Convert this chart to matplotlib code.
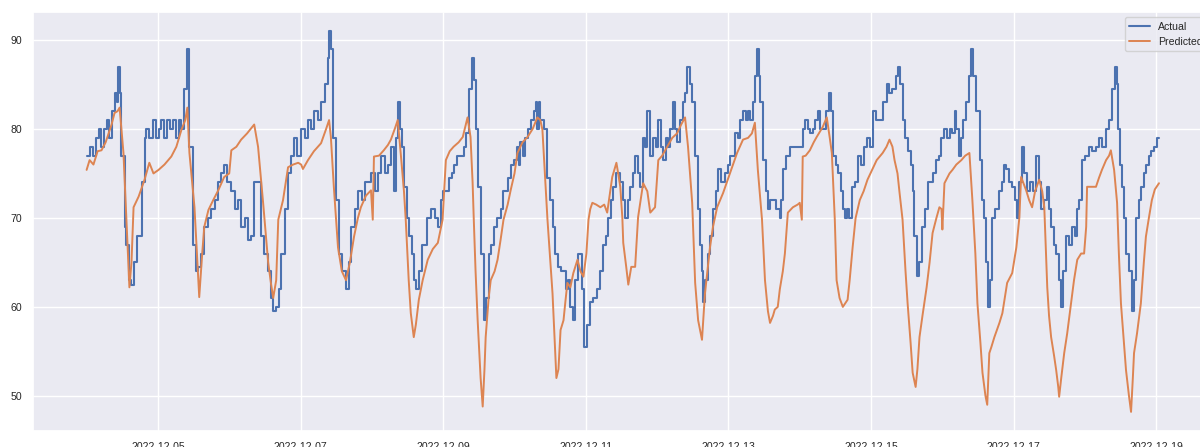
import pandas as pd
import matplotlib.pyplot as plt
import matplotlib.dates as mdates
import seaborn as sns

start = pd.Timestamp('2022-12-04 00:00')

# hours since start / value
actual_hours = [
    0.0, 1.0, 2.0, 3.0, 4.0, 5.0, 6.0, 7.0, 7.7, 8.4, 9.4, 10.1, 10.7, 11.4, 11.7, 12.8, 13.4, 14.4, 15.1, 16.1,
    16.8, 18.5, 19.5, 20.1, 21.1, 22.2, 23.2, 24.2, 25.2, 26.2, 27.2, 28.2, 29.2, 30.2, 31.2, 31.9, 32.9, 33.9,
    34.6, 35.9, 36.9, 37.6, 38.6, 39.6, 41.0, 42.0, 43.3, 44.3, 45.3, 46.3, 47.3, 48.7, 50.0, 51.0, 52.0, 53.4,
    54.4, 55.4, 56.4, 57.7, 58.7, 59.8, 61.1, 62.1, 62.8, 63.8, 64.8, 65.5, 66.8, 67.8, 68.8, 69.8, 70.8, 72.2,
    73.5, 74.5, 75.5, 76.5, 77.9, 78.9, 80.2, 81.2, 81.6, 82.2, 82.9, 83.9, 84.9, 85.9, 87.3, 88.3, 89.0, 90.3,
    91.3, 92.7, 93.7, 94.7, 95.7, 97.0, 98.0, 99.0, 100.4, 101.4, 102.4, 103.4, 104.1, 104.7, 105.4, 106.1, 106.8,
    107.8, 108.4, 109.4, 110.1, 110.8, 111.8, 112.8, 113.5, 114.5, 115.8, 117.2, 118.2, 119.2, 119.8, 120.9,
    121.9, 122.9, 123.5, 124.5, 125.9, 126.9, 127.6, 128.6, 129.6, 130.3, 130.9, 131.6, 132.6, 133.6, 134.3,
    135.3, 136.0, 137.0, 138.0, 139.3, 140.3, 141.7, 142.7, 143.7, 144.7, 145.4, 146.0, 147.0, 147.7, 148.4,
    149.4, 150.4, 151.1, 151.7, 152.1, 152.7, 153.8, 155.1, 155.8, 156.8, 157.8, 158.5, 159.5, 160.5, 161.5,
    162.1, 162.8, 163.8, 164.5, 165.5, 166.2, 166.8, 167.5, 168.5, 169.5, 170.5, 171.9, 172.9, 173.9, 174.9,
    175.6, 176.6, 177.2, 178.3, 179.6, 180.6, 181.3, 182.3, 183.0, 184.0, 184.6, 185.6, 186.3, 187.3, 188.0,
    188.7, 189.7, 190.7, 191.7, 192.4, 193.4, 194.0, 195.0, 195.7, 196.4, 197.4, 198.1, 198.7, 199.7, 200.7,
    201.4, 202.1, 203.1, 203.8, 204.8, 205.8, 206.5, 207.1, 207.5, 208.1, 209.1, 209.8, 210.8, 211.8, 212.5,
    213.5, 214.8, 215.9, 216.5, 217.5, 218.2, 219.2, 219.9, 220.9, 221.9, 222.6, 223.2, 224.2, 224.9, 225.6,
    226.3, 226.6, 227.6, 228.6, 229.3, 230.0, 231.0, 232.0, 233.3, 233.6, 234.3, 235.3, 236.7, 237.7, 238.7,
    240.0, 241.0, 241.7, 242.7, 243.4, 244.4, 245.1, 246.1, 246.7, 247.7, 248.8, 249.8, 250.4, 251.1, 252.1,
    252.8, 253.8, 254.5, 255.1, 255.8, 256.5, 257.5, 258.5, 259.5, 260.5, 261.5, 262.5, 263.5, 264.5, 265.5,
    266.9, 267.9, 269.2, 270.2, 271.2, 272.3, 272.9, 273.6, 274.6, 275.3, 276.3, 277.3, 278.0, 278.6, 279.3,
    280.0, 281.0, 282.0, 283.0, 284.0, 285.0, 286.0, 287.0, 287.7, 288.7, 289.7, 290.4, 291.1, 292.1, 292.7,
    293.7, 294.4, 295.1, 296.1, 297.1, 297.8, 298.4, 299.4, 300.5, 301.5, 302.1, 302.8, 303.5, 304.1, 304.8,
    305.8, 307.2, 308.2, 308.8, 309.5, 310.5, 311.5, 312.5, 313.2, 313.9, 314.9, 315.6, 316.6, 317.6, 318.6,
    319.6, 320.6, 321.3, 322.3, 323.3, 323.9, 324.6, 325.6, 326.3, 327.3, 328.0, 328.7, 329.7, 330.7, 331.7,
    332.7, 333.4, 334.0, 335.0, 336.0, 337.4, 338.4, 339.7, 340.7, 341.7, 343.1, 344.1, 345.1, 346.1, 346.8,
    347.1, 347.8, 348.5, 349.1, 349.8, 350.8, 351.8, 352.5, 353.2, 354.2, 354.8, 355.8, 356.5, 357.5, 358.2,
    359.2, 360.2, 360.9,
]
actual_values = [
    77, 78, 77, 79, 80, 78, 80, 81, 79, 82, 84, 83, 87, 84, 77, 69, 67, 63, 62.5, 65,
    68, 74, 79, 80, 79, 81, 79, 80, 81, 79, 81, 80, 81, 79, 81, 80, 84.5, 89,
    78, 67, 64, 64.5, 66, 69, 70, 71, 72, 74, 75, 76, 74, 73, 71, 72, 69, 70,
    67.5, 68, 74, 74, 68, 66, 64, 61, 59.5, 60, 62, 66, 71, 75, 77, 79, 77, 80,
    79, 81, 80, 82, 81, 83, 85, 88, 91, 89, 79, 72, 66, 64, 62, 65, 69, 71,
    73, 72, 74, 74, 75, 73, 75, 77, 75, 76, 78, 73, 79, 83, 80, 78, 73.5,
    70, 68, 66, 63, 62, 64, 67, 67, 70, 71, 70, 69, 72, 73, 73,
    74.5, 75, 76, 77, 77, 78, 79.5, 84.5, 88, 85.5, 80, 73.5, 66, 58.5, 61,
    66, 67, 69, 70, 71, 73, 74.5, 76, 76.5, 78, 76, 78.5, 77, 79, 80,
    81, 82, 83, 80, 83, 81, 80, 74.5, 72, 69, 66, 64.5, 64, 64, 62,
    63, 60, 58.5, 63, 66, 66, 62, 55.5, 58, 60.5, 61, 62, 64, 67, 68,
    70, 72, 73.5, 75, 74, 72, 70, 72, 73.5, 75, 77, 75, 73.5, 79, 78,
    82, 77, 79, 78, 81, 78, 76.5, 79, 78, 80, 83, 80, 78.5, 81, 83,
    84, 87, 85, 83, 77, 71, 67, 64, 60.5, 63, 66, 68, 71, 73, 75.5,
    74, 75, 76, 77, 77, 79.5, 79, 81, 82, 81, 82, 81, 83, 86, 89,
    86, 83, 76.5, 73, 71, 72, 72, 71, 70, 72, 75.5, 77, 78, 78, 78,
    78, 80, 81, 80, 79.5, 80, 81, 82, 80, 80, 82, 84, 82, 77, 76,
    75, 73, 71, 70, 71, 70, 73.5, 74, 77, 76, 78, 79, 78, 82, 81,
    81, 83, 85, 84, 84.5, 86, 87, 85, 81, 79, 77.5, 76, 73, 68, 63.5,
    65, 69, 71, 74, 74, 75, 76.5, 77, 79, 80, 79, 80, 79.5, 82, 80,
    77, 79, 81, 83, 86, 89, 86, 82, 76.5, 72, 70, 65, 60, 63, 70,
    71, 73, 74, 76, 75.5, 74, 73.5, 72, 70, 74, 78, 75, 73, 74, 73,
    77, 74, 71, 72, 73.5, 71, 69, 67, 66, 63, 60, 64, 68, 67, 69,
    68, 71, 72, 76.5, 77, 78, 77.5, 78, 79, 78, 80, 81, 84.5, 87, 85,
    80, 76, 73.5, 70, 66, 64, 59.5, 63, 70, 72, 73.5, 75, 76, 77, 77.5,
    78, 79, 79,
]

predicted_hours = [
    0.0, 1.0, 2.3, 3.7, 5.0, 6.4, 7.4, 8.4, 9.4, 10.4, 11.1, 11.7, 12.4, 13.4, 14.4, 15.1, 15.8, 17.5, 19.5,
    21.1, 22.5, 24.2, 26.2, 28.5, 30.2, 31.9, 33.2, 33.9, 34.6, 36.3, 37.3, 37.9, 38.9, 39.6, 41.0, 42.6, 44.3,
    46.3, 48.0, 48.7, 50.4, 52.0, 54.0, 56.4, 57.7, 59.4, 61.1, 62.1, 62.8, 63.8, 64.5, 66.1, 67.8, 69.5, 71.2,
    72.2, 72.8, 74.5, 76.5, 78.9, 80.6, 81.6, 82.2, 83.2, 84.6, 85.9, 87.3, 88.6, 90.0, 91.3, 92.3, 94.0, 95.7,
    96.3, 96.7, 98.4, 100.0, 101.4, 102.4, 103.7, 104.7, 105.7, 106.8, 107.4, 108.4, 109.1, 110.1, 110.8, 111.8,
    113.1, 114.8, 116.5, 118.2, 119.8, 120.9, 122.2, 123.5, 125.2, 126.6, 127.6, 128.2, 129.2, 129.9, 130.3,
    130.9, 131.6, 132.6, 133.3, 133.9, 134.3, 135.3, 136.0, 137.3, 138.3, 139.3, 140.3, 141.7, 142.7, 144.0,
    145.0, 146.7, 148.4, 150.1, 151.7, 152.7, 153.4, 154.4, 155.1, 156.1, 156.8, 157.4, 158.1, 158.8, 159.5,
    160.5, 161.1, 161.8, 162.8, 163.8, 165.2, 166.2, 167.2, 168.2, 168.9, 169.5, 170.2, 171.5, 172.9, 174.2,
    175.2, 176.2, 176.9, 178.3, 178.9, 179.6, 180.3, 180.6, 181.6, 182.3, 183.3, 184.6, 185.6, 187.3, 188.7,
    189.7, 191.3, 192.4, 193.7, 195.4, 197.1, 198.7, 200.1, 201.4, 202.4, 203.8, 204.8, 205.8, 207.1, 208.1,
    209.8, 210.8, 212.2, 214.2, 216.5, 218.9, 220.9, 222.6, 223.9, 224.9, 225.9, 227.3, 228.3, 229.3, 230.0,
    231.0, 231.6, 232.6, 233.3, 234.3, 235.0, 236.0, 237.7, 239.3, 240.0, 240.7, 241.0, 242.0, 243.4, 244.7,
    245.7, 247.7, 249.1, 250.1, 250.8, 251.8, 252.4, 253.4, 254.5, 255.5, 256.1, 256.8, 257.8, 258.8, 260.2,
    261.5, 262.8, 264.5, 265.9, 267.9, 269.2, 270.2, 271.2, 271.9, 272.9, 273.6, 274.6, 275.6, 276.3, 277.3,
    278.0, 279.0, 279.6, 280.3, 281.3, 282.7, 283.7, 284.7, 286.0, 287.0, 287.7, 288.0, 288.7, 290.4, 291.4,
    292.7, 294.4, 295.7, 297.1, 298.1, 299.1, 299.8, 300.8, 301.5, 302.5, 303.1, 303.8, 304.5, 305.5, 307.2,
    308.2, 309.8, 311.5, 312.9, 313.9, 314.5, 316.2, 317.2, 318.2, 319.2, 320.6, 321.6, 322.3, 323.3, 323.9,
    324.6, 325.6, 326.3, 327.0, 327.3, 328.0, 329.0, 330.0, 331.3, 332.3, 333.4, 334.7, 335.7, 336.4, 336.7,
    338.1, 339.7, 340.7, 341.7, 343.1, 344.1, 344.7, 345.8, 346.8, 347.4, 348.1, 349.1, 349.8, 350.8, 351.5,
    352.1, 352.5, 353.5, 354.8, 355.8, 356.5, 357.5, 358.5, 359.5, 360.9,
]
predicted_values = [
    75.4, 76.5, 76, 77.5, 77.6, 78.5, 79.5, 80.5, 81.8, 82, 82.4, 80, 77.3, 69.8, 62.2, 65, 71.2, 72.4, 74.3,
    76.2, 75, 75.4, 76, 76.9, 78, 79.9, 81, 82.4, 77.3, 71.2, 65, 61.1, 66, 69, 70.9, 72, 73.1,
    74.6, 75, 77.6, 78, 78.8, 79.5, 80.5, 78, 71.7, 65, 62.5, 61, 63, 69.8, 72, 75.7, 76, 76.2,
    76, 75.5, 76.5, 77.5, 78.4, 80, 81, 79.1, 73.5, 66.7, 64, 63, 65, 67.9, 70, 71.2, 72.5, 73.1,
    69.8, 76.9, 77, 77.6, 78.2, 78.8, 80, 81, 77.3, 73, 69.8, 63, 59.3, 56.6, 58, 60.8,
    63, 65.3, 66.5, 67.2, 69.8, 76.5, 77.5, 78, 78.5, 79.1, 80.5, 81.3, 79.1, 74, 69.8,
    64, 58.5, 52, 48.8, 53, 56.6, 61, 63, 64, 65.3, 67.5, 69.8, 71.5, 73.1, 75,
    77.3, 78.5, 79.1, 80, 81.3, 81, 79.9, 74, 69.8, 65, 61.5, 57, 52, 53, 57.4,
    58.5, 60.5, 62.7, 62.2, 63.8, 65.3, 64, 63.4, 66, 69.8, 71, 71.7, 71.5, 71.2, 71.5,
    70.6, 73, 74.6, 76.2, 75, 73.5, 70, 67.2, 64.5, 62.5, 64.5, 64.5, 70.1, 73.9, 73,
    70.6, 71.2, 76.5, 77, 78, 79, 79.5, 80.5, 81.3, 78, 71.7, 62.7, 58.5, 56.3, 61.5,
    66.7, 69, 71.2, 72.8, 75, 77.3, 78.8, 79, 79.5, 80.7, 75.4, 69.8, 63, 59.5, 58.2,
    59, 59.7, 60, 62, 64, 66, 70.6, 71.2, 71.5, 71.7, 69.8, 76.9, 77, 77.6, 78.5,
    79.1, 80.2, 81.3, 79, 77.3, 69.8, 63, 61, 60, 60.5, 60.8, 63, 66.7, 70, 72,
    73, 74.3, 75.5, 76.5, 77.3, 78, 78.8, 78, 76.5, 75, 72.8, 69.8, 64, 60.4, 56,
    52.6, 51, 53, 56.6, 59, 62.2, 65, 68.3, 70, 71.2, 71, 68.7, 73.9, 75, 75.4,
    76, 76.5, 77, 77.3, 72, 66, 60.4, 56, 52.6, 50, 49, 54.8, 55.5, 56.6, 58.2,
    59.3, 62.7, 63.8, 66.7, 70, 74.6, 73.1, 72, 71.2, 73, 74.3, 73, 71.2, 62.2, 59,
    56.6, 54.5, 52.9, 51, 49.9, 52, 54.8, 57, 60.4, 63, 65.3, 66, 66, 69, 73.5,
    73.5, 73.5, 74.5, 75.4, 76.5, 77, 77.6, 75.4, 71.7, 66, 60.4, 56, 52.9, 50, 48.2,
    52, 54.8, 57, 60.4, 65, 67.9, 70, 72, 73.2, 73.9,
]

tick_dates = ['2022-12-05', '2022-12-07', '2022-12-09', '2022-12-11',
              '2022-12-13', '2022-12-15', '2022-12-17', '2022-12-19']

sns.set_theme(style='darkgrid')
plt.rcParams['font.family'] = ['Liberation Sans', 'DejaVu Sans']

fig = plt.figure(figsize=(12, 4.47), dpi=100)
# axes run past the right edge, the legend gets clipped like in the original
ax = fig.add_axes([0.0275, 0.036, 0.983, 0.937])

actual_time = start + pd.to_timedelta(actual_hours, unit='h')
predicted_time = start + pd.to_timedelta(predicted_hours, unit='h')

ax.plot(actual_time, actual_values, label='Actual', color='#4C72B0', lw=1.5, drawstyle='steps-post')
ax.plot(predicted_time, predicted_values, label='Predicted', color='#DD8452', lw=1.4)

ax.set_xticks(pd.to_datetime(tick_dates))
ax.xaxis.set_major_formatter(mdates.DateFormatter('%Y-%m-%d'))
ax.tick_params(labelsize=7.6, pad=8, length=0)
ax.legend(loc='upper right', fontsize=7.6)

fig.savefig('out.png', dpi=100)
